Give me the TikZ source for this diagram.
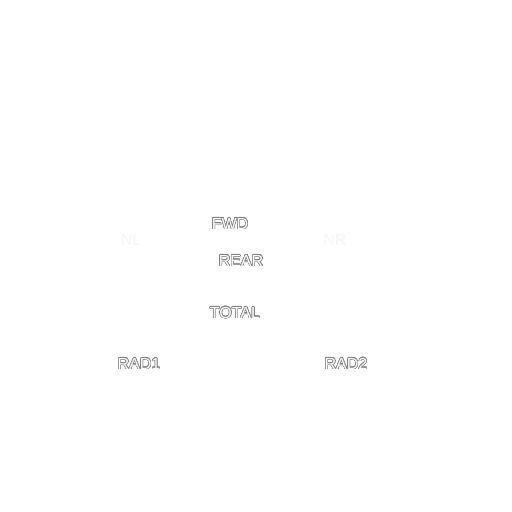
\documentclass[tikz,border=0pt]{standalone}
\usepackage{fontspec}
\setmainfont{Liberation Sans}
\usepackage[copies]{contour}
\contourlength{0.5pt}
\contournumber{24}
\begin{document}
\begin{tikzpicture}[x=1pt,y=-1pt,
  outl/.style={inner sep=0pt,text=white,font=\fontsize{16}{16}\selectfont},
  faint/.style={inner sep=0pt,text=black!4,font=\fontsize{16}{16}\selectfont}]
\useasboundingbox[fill=white] (0,0) rectangle (512,512);
\node[outl] (fwd) at (230,224) {\contour{black!50}{FWD}};
\node[outl] (rear) at (241,261) {\contour{black!50}{REAR}};
\node[outl] (total) at (235,313) {\contour{black!50}{TOTAL}};
\node[outl] (rad1) at (139,364) {\contour{black!50}{RAD1}};
\node[outl] (rad2) at (346,364) {\contour{black!50}{RAD2}};
\node[faint] (nl) at (131,240) {NL};
\node[faint] (nr) at (335,240) {NR};
\end{tikzpicture}
\end{document}
